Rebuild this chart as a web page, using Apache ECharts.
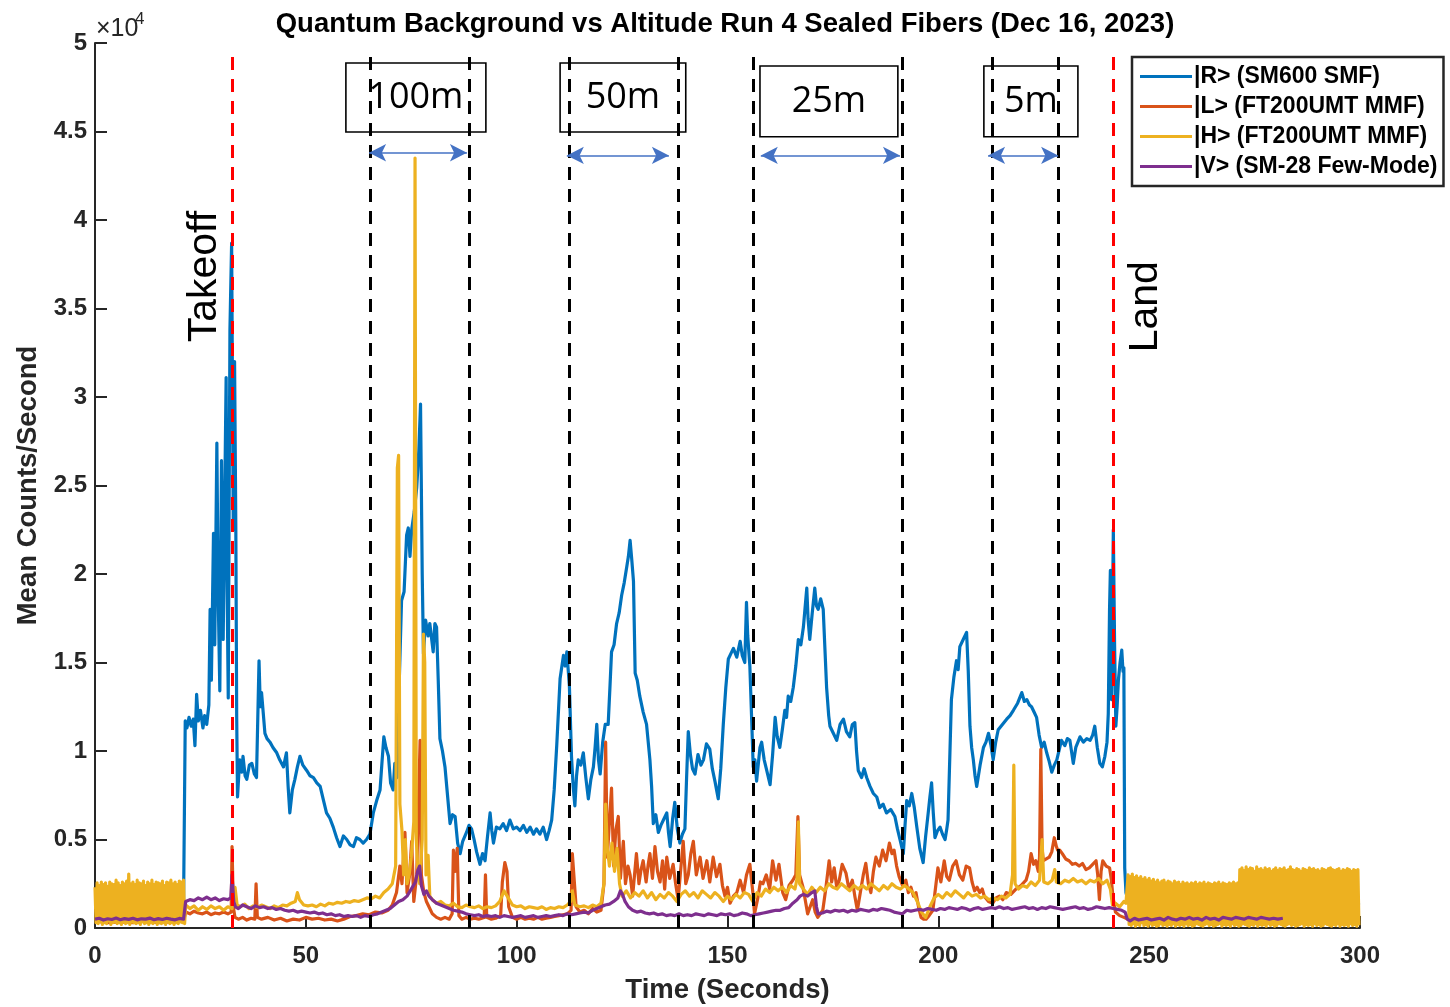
<!DOCTYPE html>
<html>
<head>
<meta charset="utf-8">
<script src="https://cdn.jsdelivr.net/npm/echarts@6/dist/echarts.min.js"></script>
<style>
html,body{margin:0;padding:0;background:#fff;overflow:hidden;}
#chart{width:1450px;height:1007px;}
</style>
</head>
<body>
<div id="chart"></div>
<script>
// ---------- DATA (time in seconds, mean counts/second) ----------
const seriesNames = ['|R> (SM600 SMF)', '|L> (FT200UMT MMF)', '|H> (FT200UMT MMF)', '|V> (SM-28 Few-Mode)'];
const xTicks = [0, 50, 100, 150, 200, 250, 300];
const segmentBounds = [65.2, 88.7, 112.4, 138.3, 156.0, 191.4, 212.9, 228.4];
const eventLines = [32.5, 241.4];
const altitudeLabels = ['100m', '50m', '25m', '5m'];
const altitudeBoxX = [[59.5, 92.7], [110.3, 140.1], [157.7, 190.4], [210.8, 233.1]];
const altitudeBoxY = [[48870, 44970], [48870, 44970], [48700, 44700], [48700, 44700]];
const arrowSpans = [[65.0, 88.2], [111.9, 136.1], [157.9, 190.9], [211.8, 228.4]];
const arrowY = [43800, 43650, 43650, 43650];
const eventNames = ['Takeoff', 'Land'];
const eventTextPos = [[26.1, 36800], [249.2, 35100]];

const blueR = [[0,1500],[3,1200],[6,1300],[9,1100],[12,1300],[15,1200],[18,1300],[21,1300],
[21.4,11700],[21.8,11300],[22.3,11900],[22.8,11400],[23.3,11800],[23.7,10300],[24.1,13200],[24.5,11700],[25,12300],[25.6,11300],[26,12000],[26.5,11500],[27,12600],[27.3,18000],[27.6,14000],[28.1,22300],[28.4,16000],[28.9,27400],[29.2,19000],[29.6,13400],[30,26400],[30.4,16300],[30.7,23000],[31.1,31100],[31.3,20000],[31.6,13000],[32,33800],[32.4,38700],[32.8,22500],[33.1,32000],[33.4,22500],[33.6,12000],[33.8,7400],[34.3,9500],[34.8,8800],[35.1,9700],[35.6,8600],[36,8400],[36.6,9200],[37.2,9300],[37.8,8700],[38.3,8500],[38.9,15100],[39.2,12500],[39.5,13300],[40.3,11000],[40.8,10700],[41.5,10500],[42.2,10200],[43.1,9900],[43.8,9500],[44.7,9100],[45.4,9900],[45.8,8000],[46.2,6500],[46.8,7800],[47.4,8400],[48,9100],[48.6,9700],[49.3,9200],[50.2,8900],[51,8600],[51.8,8500],[52.6,8200],[53.4,8000],[54.2,7200],[54.9,6500],[55.7,6200],[56.5,5700],[57.3,5100],[58.1,4600],[58.9,5200],[59.7,5000],[60.5,4700],[61.3,4600],[62,5100],[62.8,5000],[63.6,4800],[64.4,5000],[65.2,5300],[66,6500],[66.8,7200],[67.6,7800],[68.1,9500],[68.5,10800],[69,10200],[69.6,9700],[70.1,8200],[70.7,7800],[71.1,9300],[71.6,8500],[72.2,14300],[72.7,18500],[73.3,19000],[73.9,22200],[74.3,22600],[74.7,21000],[75.1,22500],[75.7,23500],[76.3,24900],[76.8,27000],[77.2,29600],[77.6,20000],[77.9,15500],[78.4,17400],[79,16500],[79.4,17200],[80.2,15600],[80.6,17200],[81,17000],[81.4,14000],[81.8,10700],[82.4,10000],[83,9100],[83.6,7500],[84.2,5900],[84.8,6400],[85.4,6300],[86,4800],[86.6,4200],[87.2,4900],[88.1,5400],[88.7,5800],[89.3,5600],[89.9,5000],[90.5,4300],[91.3,3600],[91.9,4200],[92.5,3800],[93.1,5200],[93.7,6500],[94.1,5500],[94.5,4800],[95.2,5700],[96,5600],[96.8,5900],[97.6,5500],[98.4,6100],[99.2,5600],[100,5700],[100.8,5500],[101.6,5800],[102.4,5400],[103.2,5700],[104,5300],[104.7,5600],[105.5,5300],[106.3,5700],[107.1,5000],[107.7,5500],[108.3,6100],[108.9,7800],[109.5,10300],[110.3,14100],[111.1,15400],[111.5,14800],[111.9,15600],[112.5,13700],[113,9700],[113.4,8000],[113.8,6900],[114.2,8600],[114.6,9500],[115.2,9200],[115.8,9900],[116.4,8500],[117,7300],[117.6,8400],[118.2,9100],[118.6,10200],[119,11500],[119.4,9500],[119.8,8700],[120.4,10500],[121,11500],[121.7,11500],[122.1,13500],[122.5,15600],[123.1,16000],[123.7,17200],[124.3,17800],[124.9,18800],[125.5,19500],[126.1,20400],[126.5,21000],[126.9,21900],[127.3,20800],[127.7,19600],[128.1,14400],[128.6,14000],[129.2,13100],[130,12200],[130.8,11500],[131.6,9500],[132,8000],[132.4,5900],[133,6400],[133.6,5400],[134.2,5800],[134.8,6100],[135.6,6500],[136,5400],[136.4,4600],[137,6200],[137.5,7100],[138.1,5600],[138.7,4800],[139.3,5300],[139.9,5600],[140.3,8500],[140.7,11100],[141.2,9800],[141.7,9000],[142.3,8700],[143,9800],[143.7,9200],[144.3,9500],[145,10400],[145.8,10100],[146.4,9000],[147.1,8200],[147.8,7300],[148.4,9000],[149,11500],[149.6,13600],[150.2,15200],[150.8,15500],[151.4,15800],[152.2,15300],[153,16200],[153.5,15400],[154.1,15000],[154.5,18400],[154.8,16500],[155.3,14800],[155.7,12000],[156.1,9100],[156.5,9500],[156.9,8300],[157.7,10200],[158.1,10500],[158.7,9500],[159.3,8900],[160.1,8100],[160.7,9800],[161.3,11900],[161.8,10800],[162.4,10200],[163,11200],[163.6,12300],[164,11900],[164.4,13100],[165,12800],[165.6,13600],[166.2,14800],[166.8,16300],[167.4,16000],[168,17000],[168.8,19200],[169.1,17500],[169.5,16300],[170.1,17800],[170.7,19200],[171.1,18200],[171.5,18000],[172.1,18600],[172.7,18000],[173.1,15800],[173.5,13600],[174,12000],[174.3,11400],[175.1,11000],[175.9,10600],[176.7,11500],[177.5,11800],[178.2,11100],[179,10800],[179.6,11500],[180.2,11600],[180.6,10000],[181,8900],[181.8,8500],[182.4,9000],[183,8500],[183.8,8000],[184.6,7600],[185.4,7400],[186.1,6800],[186.9,7000],[187.7,6500],[188.7,6700],[189.7,6300],[190.3,5600],[190.9,5000],[191.3,4600],[191.7,4200],[192.1,5800],[192.5,7200],[193.1,6900],[193.7,7600],[194.3,6800],[194.9,5700],[195.6,4500],[196.4,3700],[197,5200],[197.6,6500],[198,7400],[198.4,8200],[198.8,6500],[199.2,5100],[199.8,5500],[200.4,5700],[201,5300],[201.6,5000],[202,5600],[202.3,6100],[202.7,9500],[203.1,12900],[203.7,14200],[204.3,15100],[204.7,14600],[205.1,15900],[205.9,16300],[206.7,16700],[207.1,14500],[207.5,11400],[207.9,10200],[208.3,9500],[208.7,8600],[209.1,8000],[209.9,9200],[210.7,10200],[211.3,10500],[211.9,11000],[212.5,10300],[213,9500],[213.6,10500],[214.2,11200],[215.2,11500],[216.2,11800],[217,12000],[217.8,12300],[218.8,12700],[219.8,13300],[220.4,12800],[221,12900],[221.6,12600],[222.1,12500],[222.7,12200],[223.3,11900],[223.9,10900],[224.5,10200],[225.1,10500],[225.7,9900],[226.3,9400],[226.9,8800],[227.5,9200],[228.1,9500],[228.7,10100],[229.2,10600],[230,10300],[230.6,10700],[231.2,10600],[232,9300],[232.6,10200],[233.6,10800],[234.4,10500],[235.2,10700],[236,10600],[236.6,10900],[237.1,11400],[237.7,10200],[238.3,9300],[238.9,9100],[239.5,9700],[240,10500],[240.3,12100],[240.6,18000],[240.8,20200],[241.1,12900],[241.5,22500],[241.8,16000],[242.1,11400],[242.4,12500],[242.7,14000],[243.1,15000],[243.5,15700],[243.8,14500],[244,14700],[244.2,3400],[244.5,2000],[245,1500],[250,1300],[255,1400],[260,1300],[265,1400],[270,1300],[275,1400],[280,1300],[285,1400],[290,1300],[295,1400],[300,1300]];

const orangeL = [[0,400],[3,300],[6,350],[9,300],[12,400],[15,300],[18,350],[21,400],
[21.5,900],[22.5,800],[23.5,950],[24.5,850],[25.5,800],[26.5,900],[27.5,750],[28.5,850],[29.5,800],[30.5,900],[31.5,800],[32.3,900],[32.5,4600],[32.8,1200],[33.2,600],[34,500],[35,600],[36,450],[37,550],[37.9,500],[38.2,2500],[38.5,600],[39.5,500],[41,600],[42.5,450],[44,550],[45.5,400],[47,500],[48.5,450],[50,600],[51.5,500],[53,550],[54.5,450],[56,500],[57.5,400],[59,500],[60.5,650],[62,700],[63.5,800],[65,750],[66.5,900],[68,850],[69.5,1000],[70.5,1300],[71.5,2000],[72.3,3500],[72.8,2500],[73.5,5400],[74,2000],[74.6,3000],[75.1,4900],[75.6,1500],[76.3,3000],[77.1,10600],[77.4,3000],[78,2000],[78.6,1500],[79.2,1200],[80,800],[81,600],[82,500],[83,600],[84,500],[84.7,800],[85,4400],[85.4,3200],[85.9,4500],[86.3,700],[87,500],[88,600],[89,500],[90,550],[91,500],[92.3,600],[92.6,3000],[92.9,600],[94,500],[95,550],[96.2,700],[96.6,2600],[97.2,3700],[97.7,3200],[98.1,1200],[99,600],[100,500],[101,600],[102,500],[103,550],[104,500],[105,600],[106,500],[107,550],[108,600],[109,650],[110,700],[111,750],[112,800],[112.9,1000],[113.2,4200],[113.6,4300],[114.1,1200],[115,900],[116,1000],[117,800],[118,1100],[119,900],[120,1000],[120.7,2500],[121.1,10500],[121.5,4000],[122,6000],[122.5,7900],[123,3500],[123.5,5500],[124.1,6300],[124.6,2800],[125.3,4900],[125.8,2500],[126.4,3500],[126.9,3000],[127.5,1800],[128.4,4200],[129,2500],[129.5,3300],[130,3800],[130.7,2600],[131.2,3600],[131.6,4200],[132.2,2800],[132.8,4600],[133.4,3200],[134,2600],[134.6,3800],[135.1,2200],[135.6,4000],[136.3,2800],[137.1,3600],[137.7,2500],[138.3,1600],[138.9,3300],[139.5,4900],[140.1,2500],[140.7,3000],[141.3,4200],[141.9,4900],[142.6,3000],[143.5,4000],[144.2,2800],[145.1,3800],[145.8,2600],[146.6,4000],[147.4,2900],[148.2,3600],[148.8,2400],[149.4,1800],[150,2300],[150.6,1400],[151.4,1800],[152.2,2000],[153,2700],[153.8,2000],[154.5,3000],[155.3,3600],[155.7,3650],[156.1,1800],[156.4,800],[157.2,1700],[157.8,2600],[158.4,2500],[159.2,3000],[160,2200],[160.7,3800],[161.5,2700],[162.2,3600],[163.1,2000],[163.8,1600],[164.6,2400],[165.5,2700],[166.2,3000],[166.7,6300],[167.1,3000],[167.9,2300],[168.5,1500],[169,800],[169.6,1200],[170.2,1600],[170.8,900],[171.4,600],[172,800],[172.6,1000],[173.3,2200],[174.1,3800],[174.7,2600],[175.3,3400],[175.9,2300],[176.5,2700],[177.2,3600],[178.1,3100],[178.8,2200],[179.6,2700],[180.2,1800],[180.8,1000],[181.5,2000],[182.2,3000],[182.8,3650],[183.4,2500],[184,2000],[184.6,3200],[185.2,4000],[186,3500],[186.8,4400],[187.6,3800],[188.4,4800],[189,4200],[189.5,4400],[190.1,3500],[190.7,2900],[191.5,2400],[192.3,2700],[192.9,2000],[193.5,2300],[194.1,1800],[194.7,2000],[195.3,1200],[195.9,600],[196.5,500],[197.1,500],[197.8,700],[198.7,1000],[199.3,2200],[199.9,3400],[200.6,2600],[201.4,3800],[202,2900],[202.6,2700],[203.4,3500],[204.2,3800],[205,3000],[205.8,2700],[206.6,3500],[207.4,3400],[208,2600],[208.6,2100],[209.2,2300],[209.8,2000],[210.4,2200],[210.9,1800],[211.9,1500],[212.9,1400],[213.7,1700],[214.5,1800],[215.3,1600],[216.1,2000],[217.2,1900],[218.4,2200],[219.6,2400],[220.8,2700],[221.4,3200],[222,4200],[222.6,3600],[223.1,3800],[223.7,3200],[224,4000],[224.3,10100],[224.6,4500],[224.9,3800],[225.6,3900],[226.3,4000],[226.9,4300],[227.5,5100],[228,4600],[228.3,4400],[228.8,4400],[229.4,4200],[230.2,3900],[231,3800],[231.8,3600],[232.6,3650],[233.4,3500],[234.2,3650],[235,3300],[235.8,3400],[236.6,3600],[237.4,3800],[237.8,3000],[238.2,1600],[238.6,3200],[239,3800],[239.8,3500],[240.6,3400],[241,2800],[241.4,1800],[242,900],[243,700],[244,600],[245,500],[250,300],[255,400],[260,300],[265,350],[270,300],[275,400],[280,300],[285,350],[290,300],[295,400],[300,300]];

// |H> main segment (between the two noisy ground-level bands)
const yellowH = [[21.5,1300],[22.5,1100],[23.5,1250],[24.5,1000],[25.5,1200],[26.5,1050],[27.5,1250],[28.5,1100],[29.5,1200],[30.5,1000],[31.5,1200],[32.5,1100],[33.2,2300],[33.7,1300],[34.5,1200],[35.5,1350],[36.5,1100],[37.5,1250],[38.5,1150],[39.5,1300],[40.5,1200],[41.5,1100],[42.5,1250],[43.5,1150],[44.5,1300],[45.5,1250],[46.5,1400],[47.5,1500],[48,2000],[48.5,1600],[49.5,1300],[50.5,1250],[51.5,1300],[52.5,1200],[53.5,1350],[54.5,1250],[55.5,1400],[56.5,1350],[57.5,1450],[58.5,1400],[59.5,1500],[60.5,1450],[61.5,1550],[62.5,1500],[63.5,1600],[64.5,1700],[65.5,1650],[66.5,1800],[67.5,1700],[68.5,2000],[69.5,2200],[70.5,2500],[71.3,3500],[71.7,26000],[72.0,26700],[72.3,7000],[72.8,5500],[73.2,3000],[73.6,5000],[74,2500],[74.5,3000],[75,4000],[75.6,6000],[75.9,43500],[76.2,5000],[76.6,3000],[77,2500],[77.6,5000],[77.9,16600],[78.2,15000],[78.5,3000],[79,4100],[79.4,1800],[80,1600],[81,1400],[82,1500],[83,1300],[84,1250],[85,1400],[86,1200],[87,1150],[88,1300],[89,1200],[90,1150],[91,1250],[92,1100],[93,1200],[94,1150],[95,1250],[96,1500],[97,2100],[98,1700],[99,1300],[100,1200],[101,1250],[102,1100],[103,1200],[104,1150],[105,1100],[106,1200],[107,1050],[108,1150],[109,1100],[110,1200],[111,1150],[112,1300],[112.8,1500],[113.2,2100],[113.8,1300],[115,1200],[116,1250],[117,1150],[118,1300],[119,1200],[120,1400],[120.7,2500],[121.1,7000],[121.5,4500],[122,3500],[122.6,4800],[123.2,3200],[123.8,4500],[124.4,2500],[125,1800],[126,2100],[127,1700],[128,2000],[129,1800],[130,2100],[131,1700],[132,2000],[133,1600],[134,1900],[135,1700],[136,2000],[137,1800],[138,1500],[139,1900],[140,2100],[141,1800],[142,2000],[143,1700],[144,2100],[145,1900],[146,1700],[147,2000],[148,1800],[149,1500],[150,1800],[151,1600],[152,1900],[153,1700],[154,2000],[155,1900],[156,1500],[157,2000],[158,1800],[159,2200],[160,2000],[161,2300],[162,2100],[163,2300],[164,2000],[165,2400],[166,2200],[166.5,2800],[166.8,6000],[167.1,2500],[168,2200],[169,1900],[170,2300],[171,2000],[172,2300],[173,2100],[174,2500],[175,2300],[176,2200],[177,2500],[178,2300],[179,2100],[180,2400],[181,2200],[182,2400],[183,2200],[184,2500],[185,2300],[186,2100],[187,2400],[188,2200],[189,2500],[190,2300],[191,2200],[192,2400],[193,2200],[194,2000],[195,1500],[196,900],[197,600],[198,1200],[199,1700],[200,1900],[201,1700],[202,2000],[203,1800],[204,2100],[205,1900],[206,1700],[207,2000],[208,1800],[209,1900],[210,1700],[211,1800],[212,1600],[213,1700],[214,1600],[215,1800],[216,1700],[217,1900],[217.6,3000],[217.9,9200],[218.2,2500],[219,2200],[220,2400],[221,2300],[222,2600],[223,2400],[224,2700],[224.6,5000],[225,2600],[226,2500],[227,2700],[227.6,3300],[228,2600],[229,2500],[230,2700],[231,2600],[232,2800],[233,2600],[234,2700],[235,2500],[236,2700],[237,2600],[238,2800],[239,2500],[240,2700],[240.8,2200],[241.3,1300],[242,1400],[243,1200],[244,1500],[244.5,1400]];

// |H> noisy ground bands: upper/lower excursions every 0.5 s
const bandLeftStart = 0;
const bandLeftHi = [2300,2550,2400,2600,2450,2550,2350,2600,2500,2450,2700,2550,2400,2600,2500,2650,3050,2500,2600,2450,2700,2550,2500,2650,2400,2600,2500,2700,2450,2600,2550,2500,2650,2400,2600,2550,2700,2500,2600,2450,2650,2600,2700];
const bandLeftLo = [300,250,350,200,300,250,400,200,300,350,250,300,200,350,250,300,200,350,300,250,300,200,350,250,300,200,300,250,350,200,300,250,300,200,350,250,300,200,300,250,350,300,250];
const bandRightStart = 245;
const bandRightHi = [3000,2900,3050,2850,2950,2800,2900,2750,2850,2700,2800,
2650,2750,2600,2700,2550,2650,2700,2550,2650,2600,2500,2650,2550,2600,2450,2600,2500,2550,2450,
2550,2500,2600,2450,2550,2500,2600,2450,2550,2500,2450,2550,2500,2600,2450,2550,2500,2450,2550,2500,2600,2500,2550,
3300,3400,3250,3450,3300,3400,3350,3200,3450,3300,3350,3250,3400,3300,3350,3200,3300,3400,3250,3350,3300,3400,3250,3300,3450,3300,3250,3350,3300,3200,3350,3300,3250,3400,3300,3350,3250,3300,3200,3350,3300,3250,3350,3400,3300,3250,3300,3350,3200,3300,3250,3350,3300,3200,3300,3250,3300];
const bandRightLo = [200,150,250,100,200,150,300,150,200,100,250,150,200,100,150,250,150,200,100,200,150,250,100,200,150,200,100,250,150,200,100,150,250,200,150,100,200,250,150,200,100,150,200,250,100,200,150,200,100,250,150,200,100,150,250,200,150,100,200,150,250,100,200,150,200,100,250,150,200,100,150,250,200,150,100,200,250,150,200,100,150,200,250,100,200,150,200,100,250,150,200,100,150,250,200,150,100,200,150,250,100,200,150,200,100,250,150,200,100,150,250,200,150];

const purpleV = [[0,500],[1,550],[2,450],[3,520],[4,480],[5,560],[6,470],[7,530],[8,490],[9,550],[10,460],[11,520],[12,500],[13,560],[14,470],[15,530],[16,480],[17,550],[18,500],[19,460],[20,540],[21,500],
[21.5,1500],[22.5,1600],[23.5,1550],[24.5,1700],[25.5,1600],[26.5,1750],[27.5,1600],[28.5,1700],[29.5,1550],[30.5,1650],[31.5,1600],[32.2,1700],[32.5,3000],[32.9,1500],[33.3,1200],[34,1100],[35,1300],[36,1200],[37,1100],[38,1250],[39,1150],[40,1200],[41,1100],[42,1150],[43,1050],[44,1100],[45,1000],[46,950],[47,1000],[48,900],[49,950],[50,900],[51,850],[52,900],[53,800],[54,850],[55,750],[56,800],[57,700],[58,750],[59,650],[60,700],[61,650],[62,700],[63,600],[64,700],[65,650],[66,750],[67,800],[68,900],[69,1000],[70,1100],[71,1300],[72,1500],[73,1600],[74,1800],[75,2200],[76,2600],[76.6,3300],[77,3500],[77.4,2400],[78,1900],[78.6,2100],[79.2,1800],[80,1600],[81,1400],[82,1300],[83,1200],[84,1100],[85,1000],[86,950],[87,900],[88,800],[89,750],[90,700],[91,750],[92,650],[93,700],[94,650],[95,700],[96,600],[97,700],[98,650],[99,600],[100,650],[101,700],[102,600],[103,650],[104,700],[105,600],[106,650],[107,700],[108,650],[109,700],[110,750],[111,700],[112,800],[113,750],[114,800],[115,850],[116,900],[117,850],[118,1000],[119,1100],[120,1200],[121,1300],[122,1350],[123,1500],[124,1700],[124.6,2100],[125.1,1900],[125.7,1500],[126.5,1200],[127.5,1000],[128.5,900],[129.5,950],[130.5,850],[131.5,800],[132.5,850],[133.5,750],[134.5,800],[135.5,700],[136.5,750],[137.5,700],[138.5,800],[139.5,700],[140.5,750],[141.5,700],[142.5,800],[143.5,750],[144.5,700],[145.5,800],[146.5,750],[147.5,700],[148.5,800],[149.5,750],[150.5,800],[151.5,700],[152.5,750],[153.5,850],[154.5,800],[155.5,700],[156.5,750],[157.5,800],[158.5,850],[159.5,900],[160.5,950],[161.5,1000],[162.5,1000],[163.5,1100],[164.5,1150],[165.5,1400],[166.5,1600],[167.2,1800],[168,1900],[169,1800],[170,2000],[170.7,2100],[171.1,1200],[171.5,800],[172.5,850],[173.5,950],[174.5,900],[175.5,1000],[176.5,950],[177.5,1000],[178.5,900],[179.5,1000],[180.5,950],[181.5,1050],[182.5,1000],[183.5,950],[184.5,1050],[185.5,1000],[186.5,1100],[187.5,1050],[188.5,1000],[189.5,900],[190.5,850],[191.5,800],[192.5,1000],[193.5,950],[194.5,1000],[195.5,1050],[196.5,1000],[197.5,1100],[198.5,1050],[199.5,1000],[200.5,1100],[201.5,1050],[202.5,1150],[203.5,1100],[204.5,1050],[205.5,1150],[206.5,1100],[207.5,1000],[208.5,1100],[209.5,1150],[210.5,1050],[211.5,1100],[212.5,1150],[213.5,1100],[214.5,1200],[215.5,1100],[216.5,1150],[217.5,1050],[218.5,1100],[219.5,1150],[220.5,1200],[221.5,1100],[222.5,1150],[223.5,1050],[224.5,1150],[225.5,1100],[226.5,1200],[227.5,1150],[228.5,1100],[229.5,1050],[230.5,1100],[231.5,1150],[232.5,1200],[233.5,1100],[234.5,1150],[235.5,1050],[236.5,1100],[237.5,1200],[238.5,1150],[239.5,1100],[240.5,1150],[241.5,1100],[242.5,1050],[243.5,1000],[244.3,900],[244.8,500],[245.5,400],[246.5,550],[247.5,450],[248.5,500],[249.5,550],[250.5,450],[251.5,500],[252.5,550],[253.5,450],[254.5,600],[255.5,500],[256.5,450],[257.5,550],[258.5,500],[259.5,600],[260.5,500],[261.5,550],[262.5,450],[263.5,600],[264.5,500],[265.5,550],[266.5,450],[267.5,600],[268.5,550],[269.5,500],[270.5,600],[271.5,550],[272.5,500],[273.5,600],[274.5,550],[275.5,500],[276.5,600],[277.5,550],[278.5,500],[279.5,550],[280.5,500],[281.7,550]];

// ---------- BUILD ----------
function zigzag(start, hi, lo) {
  const out = [];
  const n = Math.min(hi.length, lo.length);
  for (let i = 0; i < n; i++) {
    const t = start + i * 0.5;
    out.push([t, hi[i]]);
    out.push([t + 0.25, lo[i]]);
  }
  return out;
}
const yellowAll = zigzag(bandLeftStart, bandLeftHi, bandLeftLo)
  .concat(yellowH)
  .concat(zigzag(bandRightStart, bandRightHi, bandRightLo));

const FONT = 'Liberation Sans';
const AX = '#262626';
const colors = ['#0072BD', '#D95319', '#EDB120', '#7E2F8E'];
const seriesData = [blueR, orangeL, yellowAll, purpleV];

const dataSeries = seriesNames.map((name, i) => ({
  name: name,
  type: 'line',
  data: seriesData[i],
  showSymbol: false,
  symbol: 'none',
  sampling: null,
  z: 2 + i * 0.1,
  lineStyle: { color: colors[i], width: 3.2, join: 'round' },
  itemStyle: { color: colors[i] },
  silent: true,
  animation: false
}));

const vline = (x, top) => [{ coord: [x, 0] }, { coord: [x, top] }];

const overlaySeries = {
  type: 'line',
  data: [],
  z: 5,
  silent: true,
  animation: false,
  markLine: {
    silent: true,
    symbol: 'none',
    animation: false,
    label: { show: false },
    lineStyle: { color: '#000', width: 3, type: [13, 9] },
    data: segmentBounds.map(x => vline(x, 49400))
      .concat(eventLines.map(x => {
        const l = vline(x, 49400);
        l[0].lineStyle = { color: '#FF0000', width: 3, type: [13, 9] };
        return l;
      }))
  }
};

const arrowSeries = {
  type: 'line',
  data: [],
  z: 6,
  silent: true,
  animation: false,
  markLine: {
    silent: true,
    symbol: ['arrow', 'arrow'],
    symbolSize: [13, 17],
    animation: false,
    label: { show: false },
    lineStyle: { color: '#4472C4', width: 1.5, type: 'solid' },
    data: arrowSpans.map((s, i) => [{ coord: [s[0], arrowY[i]] }, { coord: [s[1], arrowY[i]] }])
  }
};

const boxSeries = {
  type: 'line',
  data: [],
  z: 7,
  silent: true,
  animation: false,
  markArea: {
    silent: true,
    animation: false,
    itemStyle: { color: '#fff', borderColor: '#000', borderWidth: 1.6 },
    label: { show: true, position: 'inside', fontFamily: 'Open Sans', fontSize: 36, color: '#000' },
    data: altitudeLabels.map((lab, i) => [
      { name: lab, coord: [altitudeBoxX[i][0], altitudeBoxY[i][0]] },
      { coord: [altitudeBoxX[i][1], altitudeBoxY[i][1]] }
    ])
  },
  markPoint: {
    silent: true,
    animation: false,
    symbol: 'circle',
    symbolSize: 0,
    label: { show: true, position: 'inside', rotate: 90, fontFamily: FONT, fontSize: 41, color: '#000',
      formatter: p => p.name },
    data: eventNames.map((n, i) => ({ name: n, coord: eventTextPos[i] }))
  }
};

const chart = echarts.init(document.getElementById('chart'), null, { renderer: 'canvas', width: 1450, height: 1007 });
chart.setOption({
  animation: false,
  backgroundColor: '#fff',
  color: colors,
  title: {
    text: 'Quantum Background vs Altitude Run 4 Sealed Fibers (Dec 16, 2023)',
    left: 'center',
    top: 5,
    textStyle: { fontFamily: FONT, fontSize: 27.5, fontWeight: 'bold', color: '#000' }
  },
  grid: { left: 95, right: 90, top: 43, bottom: 79, containLabel: false, outerBoundsMode: 'none' },
  legend: {
    data: seriesNames,
    orient: 'vertical',
    left: 1132,
    top: 57,
    itemWidth: 52,
    itemHeight: 3,
    itemGap: 7,
    icon: 'rect',
    padding: [8, 6, 8, 8],
    borderColor: AX,
    borderWidth: 2.5,
    backgroundColor: '#fff',
    selectedMode: false,
    textStyle: { fontFamily: FONT, fontSize: 23, fontWeight: 'bold', color: '#000', lineHeight: 23, padding: [0, 0, 0, -3] }
  },
  xAxis: {
    type: 'value',
    min: 0, max: 300, interval: 50,
    name: 'Time (Seconds)',
    nameLocation: 'middle',
    nameGap: 48,
    nameTextStyle: { fontFamily: FONT, fontSize: 27.5, fontWeight: 'bold', color: AX },
    axisLine: { show: true, onZero: false, lineStyle: { color: AX, width: 2 } },
    axisTick: { show: true, inside: true, length: 12, lineStyle: { color: AX, width: 2 } },
    axisLabel: { fontFamily: FONT, fontSize: 24, fontWeight: 'bold', color: AX, margin: 16,
      formatter: v => xTicks.indexOf(v) >= 0 ? String(v) : '' },
    splitLine: { show: false }
  },
  yAxis: {
    type: 'value',
    min: 0, max: 50000, interval: 5000,
    name: 'Mean Counts/Second',
    nameLocation: 'middle',
    nameGap: 50,
    nameTextStyle: { fontFamily: FONT, fontSize: 27.5, fontWeight: 'bold', color: AX },
    axisLine: { show: true, lineStyle: { color: AX, width: 2 } },
    axisTick: { show: true, inside: true, length: 12, lineStyle: { color: AX, width: 2 } },
    axisLabel: { fontFamily: FONT, fontSize: 24, fontWeight: 'bold', color: AX, margin: 8,
      formatter: v => String(v / 10000) },
    splitLine: { show: false }
  },
  graphic: [
    { type: 'text', left: 96, top: 17, style: { text: '×10', fontFamily: FONT, fontSize: 25, fill: AX } },
    { type: 'text', left: 135, top: 11, style: { text: '4', fontFamily: FONT, fontSize: 17, fill: AX } }
  ],
  series: dataSeries.concat([overlaySeries, arrowSeries, boxSeries])
});
</script>
</body>
</html>
